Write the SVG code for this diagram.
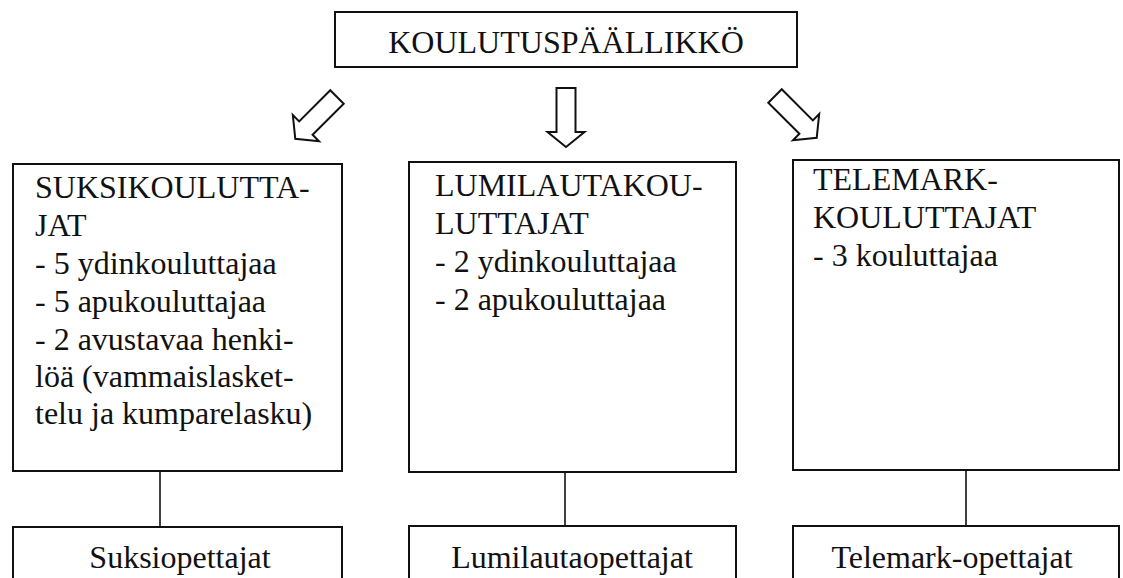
<svg xmlns="http://www.w3.org/2000/svg" width="1123" height="578" viewBox="0 0 1123 578">
<style>
.box{fill:#fff;stroke:#111;stroke-width:2}
.t{font-family:"Liberation Serif","Times New Roman",serif;font-size:32px;fill:#111}
.c{text-anchor:middle}
.arr{fill:#fff;stroke:#111;stroke-width:2;stroke-linejoin:miter}
.con{stroke:#111;stroke-width:1.6;fill:none}
</style>
<defs>
<path id="arrow" d="M-9.5,0 L9.5,0 L9.5,44 L18.5,44 L0,59 L-18.5,44 L-9.5,44 Z"/>
</defs>
<rect width="1123" height="578" fill="#fff"/>
<g id="koulutuspaallikko">
<rect class="box" x="335" y="12" width="462" height="55"/>
<text class="t c" x="566" y="53">KOULUTUSPÄÄLLIKKÖ</text>
</g>
<g id="connectors">
<use href="#arrow" class="arr" transform="translate(337,97) rotate(45)"/>
<use href="#arrow" class="arr" transform="translate(566,88)"/>
<use href="#arrow" class="arr" transform="translate(775,96) rotate(-45)"/>
<line class="con" x1="160" y1="471" x2="160" y2="527"/>
<line class="con" x1="565" y1="472" x2="565" y2="526"/>
<line class="con" x1="966" y1="470" x2="966" y2="526"/>
</g>
<g id="suksikouluttajat">
<rect class="box" x="13" y="164" width="329" height="307"/>
<text class="t" x="35" y="198">SUKSIKOULUTTA-</text>
<text class="t" x="35" y="236">JAT</text>
<text class="t" x="35" y="274">- 5 ydinkouluttajaa</text>
<text class="t" x="35" y="312">- 5 apukouluttajaa</text>
<text class="t" x="35" y="350">- 2 avustavaa henki-</text>
<text class="t" x="35" y="387">löä (vammaislasket-</text>
<text class="t" x="35" y="424">telu ja kumparelasku)</text>
</g>
<g id="lumilautakouluttajat">
<rect class="box" x="409" y="162" width="327" height="310"/>
<text class="t" x="435" y="196">LUMILAUTAKOU-</text>
<text class="t" x="435" y="234">LUTTAJAT</text>
<text class="t" x="435" y="272">- 2 ydinkouluttajaa</text>
<text class="t" x="435" y="310">- 2 apukouluttajaa</text>
</g>
<g id="telemarkkouluttajat">
<rect class="box" x="793" y="160" width="326" height="310"/>
<text class="t" x="813" y="190">TELEMARK-</text>
<text class="t" x="813" y="228">KOULUTTAJAT</text>
<text class="t" x="813" y="266">- 3 kouluttajaa</text>
</g>
<g id="suksiopettajat">
<rect class="box" x="13" y="527" width="329" height="70"/>
<text class="t c" x="180" y="568">Suksiopettajat</text>
</g>
<g id="lumilautaopettajat">
<rect class="box" x="409" y="526" width="327" height="70"/>
<text class="t c" x="572" y="568">Lumilautaopettajat</text>
</g>
<g id="telemarkopettajat">
<rect class="box" x="793" y="526" width="326" height="70"/>
<text class="t c" x="952" y="568">Telemark-opettajat</text>
</g>
</svg>
